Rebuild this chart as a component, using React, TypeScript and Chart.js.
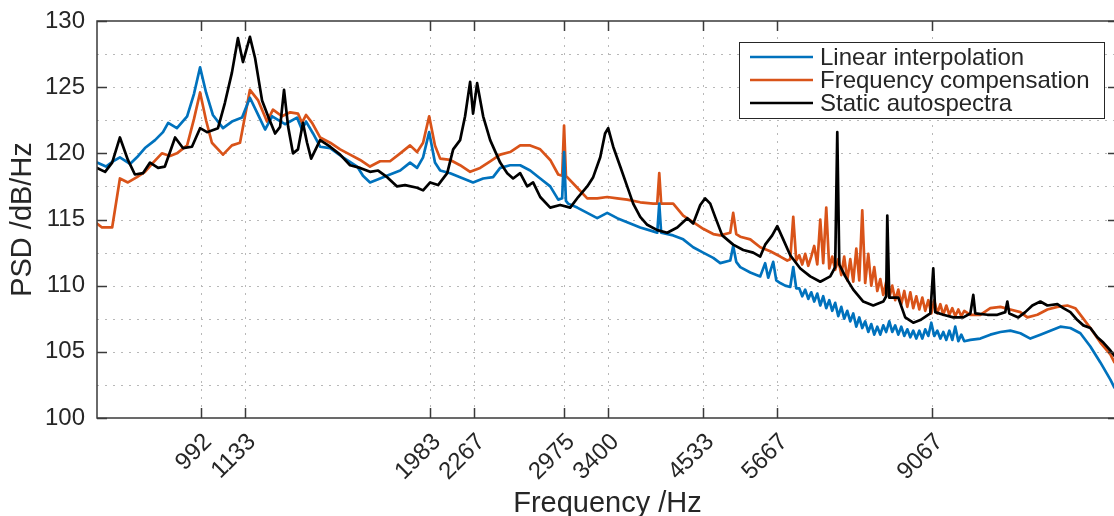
import { useEffect, useRef } from "react";
import { Chart, registerables } from "chart.js";

Chart.register(...registerables);

const FONT = "'Liberation Sans', Arial, Helvetica, sans-serif";
const TEXT = "#262626";

const xTickValues = [992, 1133, 1983, 2267, 2975, 3400, 4533, 5667, 9067];
const yTickValues = [100, 105, 110, 115, 120, 125, 130];
const yGridValues = [102.5, 105, 107.5, 110, 112.5, 115, 117.5, 120, 122.5, 125, 127.5];
const seriesNames = ["Linear interpolation", "Frequency compensation", "Static autospectra"];
const seriesColors = ["#0072BD", "#D95319", "#000000"];

// shared frequency grid of the noisy high-frequency stretch (Hz)
const noiseFreq = [
  6061, 6116, 6171, 6229, 6285, 6342, 6401, 6459, 6517, 6577,
  6637, 6697, 6757, 6821, 6883, 6944, 7009, 7073, 7137, 7203,
  7268, 7334, 7399, 7469, 7537, 7605, 7675, 7745, 7815, 7885,
  7959, 8031, 8103, 8179, 8253, 8328, 8405, 8482, 8558, 8637,
  8716, 8795, 8873, 8957, 9038, 9119, 9204, 9288, 9372, 9458,
  9545, 9631, 9717, 9808, 9897, 9986,
];

// Linear interpolation (blue)
const blueFreqLow = [
  724, 744, 760, 776, 800, 817, 837, 863, 884, 898,
  922, 951, 971, 989, 1007, 1028, 1060, 1089, 1123, 1150,
  1179, 1204, 1230, 1279, 1326, 1346, 1363, 1392, 1422, 1466,
  1524, 1591, 1619, 1654, 1705, 1757, 1812, 1867, 1907, 1942,
  1978, 2013, 2045, 2108, 2172, 2259, 2329, 2400, 2452, 2527,
  2605, 2685, 2768, 2853, 2923, 2958, 2975, 2992, 3012, 3096,
  3191, 3289, 3390, 3494, 3601, 3746, 3896, 3944, 3968, 3991,
  4139, 4266, 4397, 4532, 4672, 4772, 4919, 4963, 5009, 5070,
  5226, 5386, 5467, 5518, 5602, 5654, 5722, 5808, 5898, 5952,
  6006,
];
const blueDbLow = [
  119.3, 119.0, 119.4, 119.7, 119.2, 119.7, 120.4, 121.0, 121.6, 122.3,
  121.9, 122.8, 124.5, 126.5, 124.6, 122.9, 121.9, 122.4, 122.7, 124.2,
  122.9, 121.8, 122.8, 122.2, 122.7, 121.8, 122.4, 121.5, 120.5, 120.4,
  119.7, 119.0, 118.3, 117.8, 118.1, 118.4, 118.7, 119.3, 118.9, 119.7,
  121.6, 119.3, 118.7, 118.5, 118.2, 117.8, 118.1, 118.2, 118.9, 119.1,
  119.1, 118.7, 118.1, 117.5, 116.5, 116.6, 120.1, 116.4, 116.2, 115.9,
  115.5, 115.1, 115.5, 115.1, 114.8, 114.4, 114.1, 114.0, 116.2, 114.0,
  113.8, 113.5, 112.9, 112.5, 112.1, 111.7, 111.9, 113.0, 111.8, 111.4,
  111.0, 110.7, 111.7, 110.6, 111.8, 110.4, 110.2, 110.0, 109.9, 111.4,
  109.8,
];
const blueDbNoise = [
  109.8, 109.2, 109.7, 109.0, 109.5, 108.8, 109.4, 108.5, 109.2, 108.3,
  108.9, 108.1, 108.7, 107.7, 108.4, 107.5, 108.1, 107.3, 107.9, 106.9,
  107.6, 106.8, 107.3, 106.5, 107.1, 106.3, 106.9, 106.3, 107.0, 106.5,
  107.3, 106.5, 107.0, 106.3, 106.9, 106.2, 106.7, 106.1, 106.6, 106.0,
  106.6, 106.0, 106.7, 106.2, 107.2, 106.2, 106.6, 106.0, 106.5, 105.9,
  106.6, 105.9, 106.9, 105.8, 106.3, 105.8,
];
const blueFreqHigh = [10171, 10483, 10805, 11138, 11480, 11833, 12196, 12571, 12957, 13356, 13766, 14189, 14625, 15074, 15537, 15727];
const blueDbHigh = [105.9, 106.0, 106.3, 106.5, 106.6, 106.4, 106.0, 106.3, 106.6, 106.9, 106.8, 106.4, 105.4, 104.2, 102.9, 102.3];

// Frequency compensation (orange)
const orangeFreqLow = [
  724, 735, 758, 776, 795, 817, 837, 858, 881, 903,
  922, 951, 971, 989, 1007, 1025, 1060, 1089, 1116, 1150,
  1179, 1211, 1233, 1267, 1299, 1330, 1346, 1363, 1388, 1422,
  1466, 1511, 1557, 1605, 1654, 1705, 1757, 1812, 1867, 1907,
  1942, 1978, 2013, 2045, 2108, 2172, 2239, 2308, 2379, 2452,
  2527, 2605, 2685, 2768, 2853, 2923, 2958, 2975, 2992, 3003,
  3096, 3191, 3289, 3390, 3494, 3601, 3746, 3896, 3944, 3968,
  3991, 4139, 4266, 4397, 4532, 4672, 4772, 4919, 4963, 5009,
  5070, 5226, 5386, 5552, 5722, 5845, 5898, 5952, 6006,
];
const orangeDbLow = [
  114.7, 114.4, 114.4, 118.1, 117.8, 118.2, 118.6, 119.3, 120.0, 119.8,
  120.0, 120.6, 122.6, 124.6, 122.5, 120.8, 119.9, 120.6, 120.8, 124.8,
  124.0, 122.4, 123.3, 122.8, 123.1, 123.0, 122.3, 122.9, 122.3, 121.2,
  120.8, 120.3, 119.9, 119.5, 119.0, 119.4, 119.4, 120.0, 120.6, 120.1,
  120.8, 122.8, 120.6, 119.6, 119.5, 119.1, 118.6, 118.9, 119.4, 119.9,
  120.1, 120.6, 120.6, 120.3, 119.5, 118.4, 118.3, 122.1, 118.3, 118.2,
  117.4, 116.6, 116.6, 116.7, 116.6, 116.5, 116.3, 116.2, 116.2, 118.5,
  116.2, 116.2, 115.3, 114.8, 114.3, 113.9, 113.8, 114.0, 115.5, 113.9,
  113.7, 113.5, 112.9, 112.6, 112.2, 111.9, 112.0, 115.2, 111.9,
];
const orangeDbNoise = [
  112.3, 111.6, 112.4, 111.5, 112.2, 113.0, 111.6, 115.0, 111.7, 115.9,
  111.3, 112.2, 111.2, 112.0, 110.8, 112.2, 110.4, 112.0, 110.3, 112.8,
  110.4, 115.7, 110.2, 112.4, 110.0, 111.4, 109.6, 110.5, 109.3, 110.3,
  109.1, 110.0, 108.9, 109.7, 108.6, 109.6, 108.4, 109.5, 108.3, 109.2,
  108.2, 109.1, 108.1, 108.9, 107.9, 108.9, 107.9, 108.6, 107.8, 108.5,
  107.8, 108.3, 107.7, 108.2, 107.7, 108.1,
];
const orangeFreqHigh = [10171, 10483, 10805, 11138, 11480, 11833, 12086, 12458, 12841, 13235, 13642, 13972, 14274, 14625, 15074, 15537, 15727];
const orangeDbHigh = [107.8, 107.8, 108.3, 108.4, 108.2, 108.0, 107.6, 107.8, 108.2, 108.4, 108.5, 108.3, 107.6, 106.8, 105.7, 104.8, 104.2];

// Static autospectra (black)
const blackFreq = [
  724, 742, 758, 776, 795, 812, 832, 850, 871, 889,
  917, 939, 965, 989, 1010, 1044, 1066, 1089, 1109, 1126,
  1150, 1168, 1193, 1215, 1241, 1260, 1275, 1291, 1310, 1330,
  1350, 1367, 1384, 1422, 1466, 1511, 1557, 1605, 1654, 1695,
  1742, 1795, 1839, 1907, 1942, 1984, 2032, 2089, 2127, 2172,
  2205, 2239, 2259, 2287, 2329, 2379, 2452, 2505, 2550, 2605,
  2661, 2709, 2768, 2853, 2940, 3031, 3105, 3191, 3249, 3319,
  3368, 3400, 3452, 3526, 3601, 3667, 3746, 3826, 3944, 4065,
  4190, 4319, 4397, 4492, 4559, 4630, 4699, 4801, 4963, 5116,
  5273, 5386, 5467, 5585, 5671, 5774, 5898, 6080, 6266, 6459,
  6657, 6757, 6800, 6842, 6965, 7137, 7356, 7582, 7815, 7885,
  7911, 7959, 8179, 8352, 8558, 8742, 9011, 9092, 9146, 9372,
  9660, 9956, 10171, 10262, 10323, 10708, 11037, 11304, 11376, 11445,
  11761, 12010, 12269, 12571, 12841, 13235, 13476, 13766, 14061, 14317,
  14625, 14938, 15210, 15537, 15727,
];
const blackDb = [
  118.9, 118.6, 119.3, 121.2, 119.5, 118.4, 118.5, 119.3, 118.9, 119.0,
  121.2, 120.4, 120.5, 121.9, 121.6, 121.9, 123.8, 126.1, 128.7, 126.9,
  128.8, 127.2, 124.0, 122.8, 121.5, 122.0, 124.8, 122.0, 120.0, 120.3,
  122.3, 120.8, 119.6, 121.0, 120.5, 119.9, 119.1, 118.9, 118.6, 118.7,
  118.2, 117.5, 117.6, 117.4, 117.2, 117.8, 117.6, 118.5, 120.3, 121.0,
  122.8, 125.4, 123.0, 125.3, 122.8, 121.0, 119.3, 118.5, 118.1, 118.5,
  117.5, 117.8, 116.7, 115.9, 116.1, 115.9, 116.7, 117.5, 118.2, 119.7,
  121.5, 121.9, 120.5, 119.0, 117.5, 116.2, 115.2, 114.6, 114.2, 114.0,
  114.4, 115.1, 114.7, 116.1, 116.6, 116.2, 115.2, 113.8, 113.1, 112.7,
  112.5, 112.2, 113.1, 113.8, 114.5, 113.5, 112.3, 111.3, 110.7, 110.3,
  110.7, 111.4, 121.6, 111.6, 110.7, 109.7, 108.8, 108.5, 108.8, 109.2,
  115.3, 109.1, 109.1, 107.6, 107.2, 107.4, 107.9, 111.3, 108.0, 107.8,
  107.6, 107.6, 107.9, 109.3, 107.9, 107.8, 107.8, 108.0, 108.8, 107.9,
  107.6, 108.0, 108.5, 108.8, 108.5, 108.6, 108.3, 108.0, 107.4, 107.0,
  106.8, 106.1, 105.7, 105.1, 104.7,
];

function zip(freqs: number[], dbs: number[]) {
  const n = Math.min(freqs.length, dbs.length);
  const out: { x: number; y: number }[] = [];
  for (let i = 0; i < n; i++) out.push({ x: freqs[i], y: dbs[i] });
  return out;
}

const framePlugin = {
  id: "frame",
  beforeDatasetsDraw(chart: any) {
    const { ctx, chartArea, scales } = chart;
    const { left, right, top, bottom } = chartArea;
    ctx.save();
    ctx.strokeStyle = "#b8b8b8";
    ctx.lineWidth = 1;
    ctx.setLineDash([2, 6]);
    ctx.beginPath();
    for (const v of yGridValues) {
      const py = Math.round(scales.y.getPixelForValue(v)) + 0.5;
      ctx.moveTo(left, py);
      ctx.lineTo(right, py);
    }
    for (const v of xTickValues) {
      const px = Math.round(scales.x.getPixelForValue(v)) + 0.5;
      ctx.moveTo(px, top);
      ctx.lineTo(px, bottom);
    }
    ctx.stroke();
    ctx.restore();
  },
  afterDatasetsDraw(chart: any) {
    const { ctx, chartArea, scales } = chart;
    const { left, right, top, bottom } = chartArea;
    ctx.save();
    ctx.setLineDash([]);
    ctx.strokeStyle = "#3a3a3a";
    ctx.lineWidth = 1.5;
    ctx.strokeRect(left, top, right - left, bottom - top);
    const tl = 10;
    ctx.beginPath();
    for (const v of yTickValues) {
      const py = Math.round(scales.y.getPixelForValue(v)) + 0.5;
      ctx.moveTo(left, py);
      ctx.lineTo(left + tl, py);
      ctx.moveTo(right, py);
      ctx.lineTo(right - tl, py);
    }
    for (const v of xTickValues) {
      const px = Math.round(scales.x.getPixelForValue(v)) + 0.5;
      ctx.moveTo(px, bottom);
      ctx.lineTo(px, bottom - tl);
      ctx.moveTo(px, top);
      ctx.lineTo(px, top + tl);
    }
    ctx.stroke();

    // legend
    const lx = 739;
    const ly = 42;
    const lw = 365;
    const lh = 76;
    ctx.fillStyle = "#ffffff";
    ctx.fillRect(lx, ly, lw, lh);
    ctx.lineWidth = 1;
    ctx.strokeStyle = "#262626";
    ctx.strokeRect(lx + 0.5, ly + 0.5, lw, lh);
    ctx.font = `24px ${FONT}`;
    ctx.textBaseline = "middle";
    ctx.textAlign = "left";
    seriesNames.forEach((name, i) => {
      const yy = ly + 15 + i * 23;
      ctx.strokeStyle = seriesColors[i];
      ctx.lineWidth = 2.7;
      ctx.beginPath();
      ctx.moveTo(lx + 11, yy);
      ctx.lineTo(lx + 74, yy);
      ctx.stroke();
      ctx.fillStyle = TEXT;
      ctx.fillText(name, lx + 81, yy + 1);
    });
    ctx.restore();
  },
};

export default function App() {
  const ref = useRef<HTMLCanvasElement>(null);

  useEffect(() => {
    const canvas = ref.current;
    if (!canvas) return;
    const blue = [...zip(blueFreqLow, blueDbLow), ...zip(noiseFreq, blueDbNoise), ...zip(blueFreqHigh, blueDbHigh)];
    const orange = [...zip(orangeFreqLow, orangeDbLow), ...zip(noiseFreq, orangeDbNoise), ...zip(orangeFreqHigh, orangeDbHigh)];
    const black = zip(blackFreq, blackDb);
    const common = {
      borderWidth: 2.7,
      pointRadius: 0,
      pointHoverRadius: 0,
      tension: 0,
      fill: false,
      borderJoinStyle: "round" as const,
      borderCapStyle: "round" as const,
    };
    const chart = new Chart(canvas, {
      type: "line",
      data: {
        datasets: [
          { ...common, label: seriesNames[0], data: blue, borderColor: seriesColors[0], order: 1 },
          { ...common, label: seriesNames[1], data: orange, borderColor: seriesColors[1], order: 2 },
          { ...common, label: seriesNames[2], data: black, borderColor: seriesColors[2], order: 0 },
        ],
      },
      options: {
        responsive: false,
        animation: false,
        devicePixelRatio: 1,
        events: [],
        layout: { padding: { top: 21, right: 2, left: 0, bottom: 0 } },
        plugins: { legend: { display: false }, tooltip: { enabled: false } },
        scales: {
          x: {
            type: "logarithmic",
            min: 724,
            max: 15900,
            bounds: "data",
            afterBuildTicks: (scale: any) => {
              scale.ticks = xTickValues.map((v) => ({ value: v }));
            },
            afterFit: (scale: any) => {
              scale.height = 98;
              scale.paddingLeft = 0;
              scale.paddingRight = 0;
            },
            grid: { display: false, drawTicks: false },
            border: { display: false },
            ticks: {
              autoSkip: false,
              minRotation: 45,
              maxRotation: 45,
              padding: 10,
              labelOffset: 7,
              color: TEXT,
              font: { family: FONT, size: 24 },
              callback: (v: any) => String(v),
            },
            title: {
              display: true,
              text: "Frequency /Hz",
              color: TEXT,
              font: { family: FONT, size: 29, lineHeight: 1 },
              padding: { top: 0, bottom: -2 },
            },
          },
          y: {
            type: "linear",
            min: 100,
            max: 130,
            afterFit: (scale: any) => {
              scale.width = 97;
              scale.paddingTop = 0;
              scale.paddingBottom = 0;
            },
            grid: { display: false, drawTicks: false },
            border: { display: false },
            ticks: {
              stepSize: 5,
              padding: 12,
              color: TEXT,
              font: { family: FONT, size: 24 },
            },
            title: {
              display: true,
              text: "PSD /dB/Hz",
              color: TEXT,
              font: { family: FONT, size: 29, lineHeight: 1 },
              padding: { top: 8, bottom: 0 },
            },
          },
        },
      },
      plugins: [framePlugin],
    });
    return () => chart.destroy();
  }, []);

  return (
    <div
      style={{
        position: "fixed",
        left: 0,
        top: 0,
        width: 1114,
        height: 516,
        overflow: "hidden",
        background: "#ffffff",
      }}
    >
      <canvas ref={ref} width={1120} height={516} style={{ display: "block", width: 1120, height: 516 }} />
    </div>
  );
}
